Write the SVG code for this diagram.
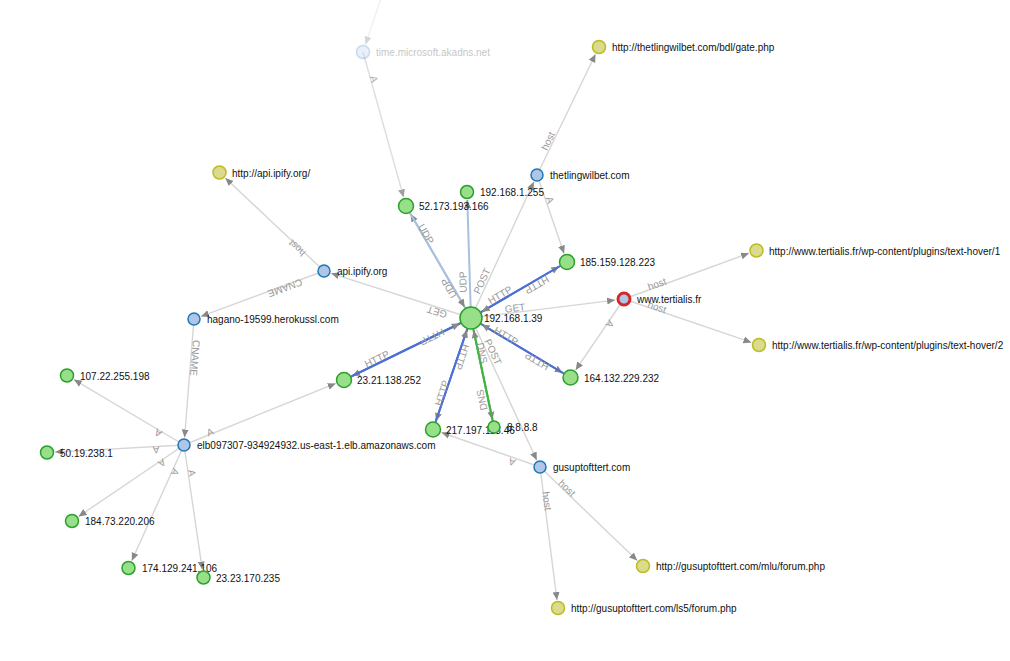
<svg xmlns="http://www.w3.org/2000/svg" width="1010" height="661" viewBox="0 0 1010 661">
<style>
.e{fill:none;stroke:#d6d6d6;stroke-width:1.4;marker-end:url(#arr)}
.http{stroke:#4c6fd4;stroke-width:2}
.udp{stroke:#a9c1de;stroke-width:2}
.dns{stroke:#40b340;stroke-width:2}
.lb{font-family:"Liberation Sans",Arial,sans-serif;font-size:10px;fill:#999;text-anchor:middle}
.nl{font-family:"Liberation Sans",Arial,sans-serif;font-size:10px;fill:#111}
.g{fill:#98df8a;stroke:#2ca02c;stroke-width:1.5}
.b{fill:#aec7e8;stroke:#1f77b4;stroke-width:1.5}
.y{fill:#dbdb8d;stroke:#bcbd22;stroke-width:1.5}
.r{fill:#aec7e8;stroke:#d62728;stroke-width:3}
</style>
<defs>
<marker id="arr" viewBox="0 -5 10 10" refX="8" refY="0" markerWidth="10" markerHeight="10" markerUnits="userSpaceOnUse" orient="auto">
<path d="M0,-3.5L8,0L0,3.5Z" fill="#888"/>
</marker>
</defs>
<rect width="1010" height="661" fill="#fff"/>
<g id="connectors">
<line class="e" x1="382" y1="-5" x2="365.5" y2="44.4" opacity="0.35"/>
<line class="e" x1="363" y1="52" x2="403.6" y2="197.3" opacity="0.8"/>
<line class="e udp" x1="471" y1="318" x2="410.5" y2="213.8"/>
<line class="e udp" x1="406" y1="206" x2="464.7" y2="307.2"/>
<line class="e udp" x1="471" y1="318" x2="467.3" y2="200"/>
<line class="e" x1="471" y1="318" x2="533.9" y2="181.8"/>
<line class="e" x1="537" y1="175" x2="595.5" y2="54.2"/>
<line class="e" x1="537" y1="175" x2="564.1" y2="253.5"/>
<line class="e http" x1="471" y1="318" x2="559.2" y2="266.5"/>
<line class="e http" x1="567" y1="262" x2="481.8" y2="311.7"/>
<line class="e" x1="471" y1="318" x2="615.1" y2="300.1"/>
<line class="e" x1="471" y1="318" x2="331.1" y2="273.3"/>
<line class="e" x1="624" y1="299" x2="749" y2="253.2"/>
<line class="e" x1="624" y1="299" x2="751.4" y2="342.4"/>
<line class="e" x1="624" y1="299" x2="575.6" y2="370.1"/>
<line class="e http" x1="471" y1="318" x2="562.8" y2="372.9"/>
<line class="e http" x1="570.5" y1="377.5" x2="481.7" y2="324.4"/>
<line class="e" x1="324" y1="271" x2="225.3" y2="178"/>
<line class="e" x1="324" y1="271" x2="201" y2="316.4"/>
<line class="e" x1="194" y1="319" x2="184.6" y2="437.5"/>
<line class="e http" x1="471" y1="318" x2="352.1" y2="376.1"/>
<line class="e http" x1="344" y1="380" x2="459.8" y2="323.5"/>
<line class="e" x1="184" y1="445" x2="335.7" y2="383.4"/>
<line class="e" x1="184" y1="445" x2="73.9" y2="379.6"/>
<line class="e" x1="184" y1="445" x2="55" y2="452.1"/>
<line class="e" x1="184" y1="445" x2="78.6" y2="516.5"/>
<line class="e" x1="184" y1="445" x2="131.8" y2="560.7"/>
<line class="e" x1="184" y1="445" x2="202.3" y2="569.6"/>
<line class="e http" x1="471" y1="318" x2="435.9" y2="421"/>
<line class="e http" x1="433" y1="429.5" x2="467" y2="329.8"/>
<line class="e dns" x1="471" y1="318" x2="492.5" y2="419.7"/>
<line class="e dns" x1="494" y1="427" x2="473.6" y2="330.2"/>
<line class="e" x1="471" y1="318" x2="536.8" y2="460.2"/>
<line class="e" x1="540" y1="467" x2="441.5" y2="432.5"/>
<line class="e" x1="540" y1="467" x2="637.2" y2="560.5"/>
<line class="e" x1="540" y1="467" x2="557" y2="600.1"/>
<g id="edge-labels">
<text class="lb" dy="0.35em" transform="translate(374,79) rotate(74.4)" opacity="0.8">A</text>
<text class="lb" dy="0.35em" transform="translate(426,234) rotate(59.9)">UDP</text>
<text class="lb" dy="0.35em" transform="translate(449,288) rotate(239.9)">UDP</text>
<text class="lb" dy="0.35em" transform="translate(463,282) rotate(-91.8)">UDP</text>
<text class="lb" dy="0.35em" transform="translate(482,281) rotate(-65.2)">POST</text>
<text class="lb" dy="0.35em" transform="translate(548,141) rotate(-64.2)">host</text>
<text class="lb" dy="0.35em" transform="translate(550,200) rotate(71)">A</text>
<text class="lb" dy="0.35em" transform="translate(500,295) rotate(-30.3)">HTTP</text>
<text class="lb" dy="0.35em" transform="translate(537,285) rotate(149.7)">HTTP</text>
<text class="lb" dy="0.35em" transform="translate(515,308) rotate(-7.1)">GET</text>
<text class="lb" dy="0.35em" transform="translate(437,312) rotate(197.7)">GET</text>
<text class="lb" dy="0.35em" transform="translate(657,284) rotate(-20.1)">host</text>
<text class="lb" dy="0.35em" transform="translate(657,307) rotate(18.8)">host</text>
<text class="lb" dy="0.35em" transform="translate(610,324) rotate(124.3)">A</text>
<text class="lb" dy="0.35em" transform="translate(506,336) rotate(30.9)">HTTP</text>
<text class="lb" dy="0.35em" transform="translate(537,361) rotate(210.9)">HTTP</text>
<text class="lb" dy="0.35em" transform="translate(297,248) rotate(223.3)">host</text>
<text class="lb" dy="0.35em" transform="translate(285,288) rotate(159.7)">CNAME</text>
<text class="lb" dy="0.35em" transform="translate(195,358) rotate(94.5)">CNAME</text>
<text class="lb" dy="0.35em" transform="translate(432,337) rotate(154)">HTTP</text>
<text class="lb" dy="0.35em" transform="translate(377,359) rotate(-26)">HTTP</text>
<text class="lb" dy="0.35em" transform="translate(210,432) rotate(-22.1)">A</text>
<text class="lb" dy="0.35em" transform="translate(158,433) rotate(210.7)">A</text>
<text class="lb" dy="0.35em" transform="translate(156,450) rotate(176.9)">A</text>
<text class="lb" dy="0.35em" transform="translate(162,463) rotate(145.8)">A</text>
<text class="lb" dy="0.35em" transform="translate(175,472) rotate(114.3)">A</text>
<text class="lb" dy="0.35em" transform="translate(192,473) rotate(81.6)">A</text>
<text class="lb" dy="0.35em" transform="translate(462,357) rotate(108.8)">HTTP</text>
<text class="lb" dy="0.35em" transform="translate(442,393) rotate(-71.2)">HTTP</text>
<text class="lb" dy="0.35em" transform="translate(482,353) rotate(78.1)">DNS</text>
<text class="lb" dy="0.35em" transform="translate(482,400) rotate(-101.9)">DNS</text>
<text class="lb" dy="0.35em" transform="translate(493,352) rotate(65.2)">POST</text>
<text class="lb" dy="0.35em" transform="translate(512,462) rotate(199.3)">A</text>
<text class="lb" dy="0.35em" transform="translate(567,488) rotate(43.9)">host</text>
<text class="lb" dy="0.35em" transform="translate(547,501) rotate(82.7)">host</text>
</g>
</g>
<g id="n-time" opacity="0.25"><circle class="b" cx="363" cy="52" r="6.5"/><text class="nl" x="376" y="56" fill="#999">time.microsoft.akadns.net</text></g>
<g id="n-52-173-193-166"><circle class="g" cx="406" cy="206" r="7.5"/><text class="nl" x="419" y="210">52.173.193.166</text></g>
<g id="n-192-168-1-255"><circle class="g" cx="467" cy="192" r="6.5"/><text class="nl" x="480" y="196">192.168.1.255</text></g>
<g id="n-thetlingwilbet"><circle class="b" cx="537" cy="175" r="6"/><text class="nl" x="550" y="179">thetlingwilbet.com</text></g>
<g id="n-gate"><circle class="y" cx="599" cy="47" r="6.5"/><text class="nl" x="612" y="51">http://thetlingwilbet.com/bdl/gate.php</text></g>
<g id="n-185-159-128-223"><circle class="g" cx="567" cy="262" r="7.5"/><text class="nl" x="580" y="266">185.159.128.223</text></g>
<g id="n-tertialis"><circle class="r" cx="624" cy="299" r="6"/><text class="nl" x="637" y="303">www.tertialis.fr</text></g>
<g id="n-texthover1"><circle class="y" cx="756.5" cy="250.5" r="6.5"/><text class="nl" x="769" y="254.5">http://www.tertialis.fr/wp-content/plugins/text-hover/1</text></g>
<g id="n-texthover2"><circle class="y" cx="759" cy="345" r="6.5"/><text class="nl" x="772" y="349">http://www.tertialis.fr/wp-content/plugins/text-hover/2</text></g>
<g id="n-164-132-229-232"><circle class="g" cx="570.5" cy="377.5" r="7.5"/><text class="nl" x="584" y="381.5">164.132.229.232</text></g>
<g id="n-api-ipify"><circle class="b" cx="324" cy="271" r="6"/><text class="nl" x="337" y="275">api.ipify.org</text></g>
<g id="n-api-ipify-url"><circle class="y" cx="219.5" cy="172.5" r="6.5"/><text class="nl" x="232" y="176.5">http://api.ipify.org/</text></g>
<g id="n-hagano"><circle class="b" cx="194" cy="319" r="6"/><text class="nl" x="207" y="323">hagano-19599.herokussl.com</text></g>
<g id="n-23-21-138-252"><circle class="g" cx="344" cy="380" r="7.5"/><text class="nl" x="357" y="384">23.21.138.252</text></g>
<g id="n-elb"><circle class="b" cx="184" cy="445" r="6"/><text class="nl" x="197" y="449">elb097307-934924932.us-east-1.elb.amazonaws.com</text></g>
<g id="n-107-22-255-198"><circle class="g" cx="67" cy="375.5" r="6.5"/><text class="nl" x="80" y="379.5">107.22.255.198</text></g>
<g id="n-50-19-238-1"><circle class="g" cx="47" cy="452.5" r="6.5"/><text class="nl" x="60" y="456.5">50.19.238.1</text></g>
<g id="n-184-73-220-206"><circle class="g" cx="72" cy="521" r="6.5"/><text class="nl" x="85" y="525">184.73.220.206</text></g>
<g id="n-174-129-241-106"><circle class="g" cx="128.5" cy="568" r="6.5"/><text class="nl" x="142" y="572">174.129.241.106</text></g>
<g id="n-23-23-170-235"><circle class="g" cx="203.5" cy="577.5" r="6.5"/><text class="nl" x="216" y="581.5">23.23.170.235</text></g>
<g id="n-217-197"><circle class="g" cx="433" cy="429.5" r="7.5"/><text class="nl" x="446" y="433.5">217.197.113.46</text></g>
<g id="n-8-8-8-8"><circle class="g" cx="494" cy="427" r="6"/><text class="nl" x="507" y="431">8.8.8.8</text></g>
<g id="n-192-168-1-39"><circle class="g" cx="471" cy="318" r="11"/><text class="nl" x="484" y="322">192.168.1.39</text></g>
<g id="n-gusuptofttert"><circle class="b" cx="540" cy="467" r="6"/><text class="nl" x="553" y="471">gusuptofttert.com</text></g>
<g id="n-mlu"><circle class="y" cx="643" cy="566" r="6.5"/><text class="nl" x="656" y="570">http://gusuptofttert.com/mlu/forum.php</text></g>
<g id="n-ls5"><circle class="y" cx="558" cy="608" r="6.5"/><text class="nl" x="571" y="612">http://gusuptofttert.com/ls5/forum.php</text></g>
</svg>
